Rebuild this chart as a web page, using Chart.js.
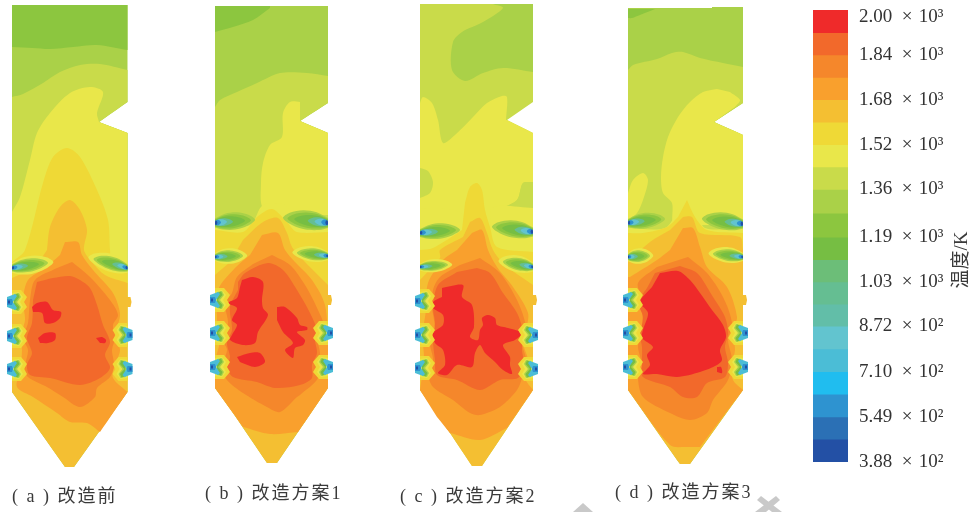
<!DOCTYPE html>
<html>
<head>
<meta charset="utf-8">
<style>
  html, body { margin: 0; background: #fff; }
  #wrap { position: relative; width: 974px; height: 512px; overflow: hidden; }
  canvas { position: absolute; top: 0; }
  #panels { left: 0; }
  #bar { left: 813px; }
</style>
<script src="https://cdn.jsdelivr.net/npm/chart.js@4"></script>
</head>
<body>
<div id="wrap">
  <canvas id="panels" width="974" height="512"></canvas>
  <canvas id="bar" width="161" height="512"></canvas>
</div>
<script>
// colour levels, hottest first (index = level)
const levelColors = ["#ef2a2a", "#f2692b", "#f5872b", "#f9a02d", "#f4bf32", "#efd936", "#e9e74a", "#c9db4a",
  "#aad148", "#8cc63f", "#76be43", "#6cbe78", "#65be92", "#62bea8", "#62c4cf", "#4bbdd6",
  "#20bdef", "#2e93d0", "#2b70b5", "#2350a5"];
const levelEdges = [2000, 1919, 1840, 1760, 1680, 1600, 1520, 1440, 1360, 1275, 1190, 1110, 1030, 951, 872, 791, 710, 630, 549, 469, 388];

// colour bar ticks; the top label sits a little under the top of the bar
const tickValues = [1975, 1840, 1680, 1520, 1360, 1190, 1030, 872, 710, 549, 388];
const tickLabels = ["2.00\u2002×\u200410³", "1.84\u2002×\u200410³", "1.68\u2002×\u200410³", "1.52\u2002×\u200410³", "1.36\u2002×\u200410³",
  "1.19\u2002×\u200410³", "1.03\u2002×\u200410³", "8.72\u2002×\u200410²", "7.10\u2002×\u200410²", "5.49\u2002×\u200410²", "3.88\u2002×\u200410²"];

const captionTexts = ["( a ) 改造前", "( b ) 改造方案1", "( c ) 改造方案2", "( d ) 改造方案3"];
const captionX = [12, 205, 400, 615];
const captionY = [497, 494, 497, 493];
const axisTitle = "温度/K";

// contour regions: [level, outline], painted in order
const panelA = [
  [8, [[12,5],[127.5,5],[127.5,102],[99,122],[127.5,133],[127.5,392],[74,467],[65,467],[12,392]]],
  [9, [[12,5],[127.5,5],[127.5,50],[97,45],[73,47],[50,49],[33,48],[12,47]]],
  [7, [[12,97],[23,94],[43,83],[60,72],[80,65],[100,64],[127.5,70],[127.5,102],[99,122],[127.5,133],[127.5,300],[12,300]]],
  [6, [[12,212],[20,197],[30,160],[37,133],[50,113],[70,93],[90,87],[103,92],[97,113],[99,122],[127.5,133],[127.5,300],[12,300]]],
  [5, [[12,262],[25,250],[43,183],[53,157],[67,148],[80,157],[97,190],[108,220],[110,250],[112,265],[127.5,273],[127.5,392],[12,392]]],
  [4, [[47,250],[50,227],[60,207],[70,200],[80,210],[87,230],[84,250],[92,262],[105,275],[127.5,283],[127.5,392],[74,467],[65,467],[12,392],[12,278],[35,268]]],
  [3, [[65,242],[78,242],[82,255],[93,270],[113,293],[120,313],[118,325],[115,338],[120,350],[115,365],[113,378],[127.5,392],[100,432],[87,423],[70,422],[57,413],[33,397],[17,387],[20,370],[22,350],[20,338],[25,320],[23,300],[28,280],[45,268],[60,255]]],
  [2, [[72,262],[90,277],[110,300],[118,315],[113,325],[115,338],[112,350],[114,365],[110,377],[97,388],[95,397],[80,407],[63,397],[47,387],[28,377],[25,367],[28,350],[23,338],[28,323],[30,300],[35,280],[57,268]]],
  [1, [[37,282],[53,278],[70,276],[80,280],[90,288],[97,305],[103,325],[110,342],[105,355],[110,368],[100,378],[80,385],[50,378],[30,375],[27,365],[32,353],[27,338],[32,323],[33,300]]],
  [0, [[32,307],[37,303],[47,302],[53,310],[61,312],[60,318],[53,323],[45,323],[42,313],[33,312]]],
  [0, [[38,338],[45,333],[55,333],[55,340],[48,343],[40,343]]],
  [0, [[96,338],[102,337],[106,340],[105,343],[100,343]]],
];

const panelB = [
  [8, [[215,6],[328,6],[328,103],[300,121],[328,133],[328,388],[277,463],[267,463],[233,413],[215,388]]],
  [9, [[215,6],[270,6],[270,8],[253,20],[233,27],[215,32]]],
  [7, [[215,107],[220,100],[237,92],[257,83],[280,73],[307,73],[328,76],[328,103],[300,121],[328,133],[328,260],[215,260]]],
  [6, [[300,102],[290,102],[283,113],[282,137],[270,145],[263,163],[261,183],[263,208],[283,210],[300,215],[328,215],[328,133],[300,121]]],
  [6, [[215,225],[250,225],[263,205],[285,205],[300,222],[328,225],[328,270],[215,270]]],
  [5, [[215,230],[243,232],[257,217],[272,209],[287,222],[297,232],[328,232],[328,388],[215,388]]],
  [4, [[243,240],[263,222],[278,218],[287,233],[292,247],[305,262],[328,285],[328,388],[277,463],[267,463],[233,413],[215,388],[215,275],[230,262]]],
  [3, [[262,235],[278,233],[285,250],[295,262],[312,280],[325,305],[328,345],[328,388],[298,432],[270,434],[243,427],[233,413],[215,388],[215,360],[220,340],[217,320],[218,290],[235,268],[250,255]]],
  [2, [[272,255],[290,265],[305,285],[318,310],[325,330],[318,340],[320,353],[318,378],[300,395],[297,397],[280,412],[267,407],[243,393],[227,380],[222,367],[227,350],[223,340],[228,323],[225,303],[232,293],[237,277],[253,264]]],
  [1, [[238,282],[245,273],[268,263],[283,270],[297,290],[310,313],[317,330],[315,340],[317,353],[312,365],[312,378],[300,385],[275,388],[257,382],[233,377],[227,367],[230,357],[227,343],[232,330],[230,307],[238,290]]],
  [0, [[242,280],[253,277],[263,282],[262,300],[263,308],[268,315],[258,332],[255,343],[243,345],[230,340],[232,335],[237,325],[232,320],[237,308],[228,303],[237,298],[240,287]]],
  [0, [[277,307],[285,307],[297,318],[300,325],[307,327],[307,330],[297,332],[305,340],[303,345],[295,348],[293,358],[285,350],[293,343],[283,332],[277,320]]],
  [0, [[237,357],[250,353],[260,353],[265,362],[255,367],[240,362]]],
];

const panelC = [
  [7, [[420,4],[533,4],[533,102],[507,120],[533,133],[533,390],[482,466],[472,466],[450,433],[420,390]]],
  [8, [[493,4],[503,8],[483,22],[462,32],[453,42],[452,70],[465,81],[483,73],[503,68],[533,72],[533,4]]],
  [6, [[420,103],[423,97],[432,103],[438,120],[443,143],[455,135],[473,117],[487,103],[502,96],[507,97],[506,120],[507,120],[533,133],[533,182],[523,183],[517,200],[497,213],[500,250],[420,250],[420,198],[430,193],[433,182],[428,171],[420,168]]],
  [7, [[533,182],[523,183],[517,200],[497,213],[533,222]]],
  [6, [[420,208],[460,212],[470,235],[490,235],[492,208],[533,208],[533,270],[420,270]]],
  [5, [[465,203],[470,187],[477,183],[482,190],[485,210],[490,227],[497,247],[533,252],[533,390],[420,390],[420,250],[433,248],[462,230]]],
  [4, [[470,222],[480,218],[487,233],[493,250],[505,265],[533,285],[533,390],[482,466],[472,466],[450,433],[420,390],[420,280],[440,258],[440,250],[463,237]]],
  [3, [[472,233],[482,230],[488,250],[497,267],[513,287],[528,313],[526,330],[523,343],[528,360],[525,378],[533,390],[507,428],[480,440],[450,433],[437,417],[420,390],[424,360],[422,335],[426,310],[428,283],[443,260],[457,250]]],
  [2, [[480,258],[500,273],[517,300],[526,327],[522,343],[526,360],[522,378],[517,390],[500,407],[480,415],[470,413],[453,400],[433,387],[428,373],[433,360],[430,343],[435,330],[432,307],[433,290],[440,277],[460,265]]],
  [1, [[477,268],[490,273],[503,293],[517,313],[523,332],[522,350],[524,365],[518,378],[500,380],[480,390],[457,380],[437,375],[435,360],[433,340],[435,323],[433,307],[438,285],[457,272]]],
  [0, [[442,288],[463,285],[462,297],[472,305],[474,327],[470,337],[478,340],[480,330],[483,325],[482,318],[488,315],[495,318],[497,325],[508,328],[522,333],[515,340],[503,345],[510,357],[510,365],[512,374],[503,370],[495,362],[485,353],[480,345],[475,353],[472,367],[457,365],[447,375],[438,373],[445,365],[443,350],[435,343],[433,333],[443,325],[443,315],[433,308],[433,302],[442,297]]],
];

const panelD = [
  [8, [[628,8],[712,8],[712,7],[743,7],[743,103],[714,122],[743,135],[743,390],[690,464],[680,464],[677,460],[628,390]]],
  [9, [[628,9],[655,9],[640,15],[632,18],[628,18]]],
  [7, [[628,70],[633,65],[657,59],[672,53],[683,52],[700,58],[723,63],[743,67],[743,103],[714,122],[743,135],[743,260],[628,260]]],
  [6, [[717,89],[703,92],[690,102],[678,117],[668,137],[663,157],[661,177],[663,193],[672,203],[674,225],[700,225],[743,225],[743,135],[714,122],[735,107],[740,100],[730,92]]],
  [6, [[628,193],[633,180],[643,173],[648,180],[643,200],[637,213],[628,220]]],
  [6, [[628,228],[665,228],[680,210],[695,210],[705,228],[743,228],[743,270],[628,270]]],
  [5, [[687,200],[695,217],[707,230],[743,233],[743,390],[628,390],[628,233],[643,233],[667,227],[678,217]]],
  [4, [[683,217],[692,217],[700,233],[740,237],[743,250],[743,390],[690,464],[680,464],[677,460],[628,390],[628,262],[650,242],[670,230]]],
  [3, [[683,228],[693,228],[700,247],[707,267],[727,287],[737,317],[733,330],[735,350],[732,363],[733,380],[743,390],[700,447],[687,447],[670,445],[628,390],[628,277],[630,277],[657,260],[670,250]]],
  [2, [[688,257],[707,273],[723,297],[732,323],[728,340],[732,360],[728,380],[713,400],[707,413],[690,420],[670,413],[643,397],[638,377],[642,365],[638,347],[642,330],[642,300],[638,283],[657,267]]],
  [1, [[680,266],[697,273],[713,297],[725,317],[728,333],[725,347],[728,363],[725,377],[707,383],[697,397],[683,397],[670,387],[643,377],[642,363],[642,347],[640,335],[643,317],[638,302],[647,288],[655,273]]],
  [0, [[660,273],[678,271],[690,280],[700,293],[712,310],[723,325],[726,337],[720,350],[722,360],[717,365],[700,372],[677,377],[657,374],[643,374],[650,365],[647,355],[653,347],[642,338],[643,330],[648,313],[640,302],[652,287]]],
  [0, [[717,367],[721,367],[722,373],[717,372]]],
];

// wall burners: [wall x, direction into the furnace, wall y]
const nozzles = [
  [12,1,302],[12,1,336],[12,1,369],[127.5,-1,335],[127.5,-1,369],
  [215,1,300],[215,1,333],[215,1,367],[328,-1,333],[328,-1,367],
  [420,1,301],[420,1,335],[420,1,368],[533,-1,335],[533,-1,369],
  [628,1,300],[628,1,333],[628,1,367],[743,-1,333],[743,-1,367],
];
// small ears on the right wall
const ears = [[127.5,302],[328,300],[533,300],[743,300]];
// air ports: [wall x, direction, wall y, length, half height, rise at far end, halo]
const lenses = [
  [12,1,268,36,7,-5,1],[127.5,-1,268,34,7,-9,1],
  [215,1,223,40,9,-3,0],[328,-1,223,45,10,-5,0],[215,1,257,28,6,-1,1],[328,-1,256,31,6,-3,1],
  [420,1,233,40,8,-3,0],[533,-1,232,41,9,-5,0],[420,1,267,28,5,-2,1],[533,-1,267,30,6.5,-5,1],
  [628,1,223,37,8,-4,0],[743,-1,224,41,9,-5,0],[628,1,257,22,6,-1,1],[743,-1,257,30,6,-3,1],
];

// shapes repeated at each burner
const nozzleLayers = [
  [5, [[0,-12],[9,-12],[15,-5],[12,0],[15,5],[9,12],[0,12]]],
  [6, [[0,-9],[7,-10],[11,-5],[8,0],[11,5],[7,10],[0,9]]],
  [8, [[2,-8],[7,-9],[9,-5],[5,0],[9,5],[7,9],[2,8]]],
  [10, [[2,-7],[6,-8.5],[7.5,-5],[3,0],[7.5,5],[6,8.5],[2,7]]],
  [15, [[-5,-5],[3,-8],[5,-6],[1,0],[5,6],[3,8],[-5,5]]],
  [17, [[-5,-3],[0,-3],[1,0],[0,3],[-5,3]]],
  [19, [[-4,-1.5],[-2,-1.5],[-2,1.5],[-4,1.5]]],
];
const lensOutline = [[0,-0.5],[0.25,-0.95],[0.55,-1],[0.85,-0.6],[1,0],[0.8,0.6],[0.5,0.9],[0.2,0.8],[0,0.5]];
// level, length scale, height scale
const lensLayers = [[8,1,1],[9,0.9,0.8],[10,0.75,0.6],[12,0.45,0.45],[14,0.3,0.35],[17,0.15,0.3],[19,0.06,0.25]];

const watermark = [
  [[573,512],[583,503],[593,512]],
  [[757,500],[761,496],[782,512],[772,512]],
  [[780,500],[776,496],[755,512],[766,512]],
];

function region(points, color, tension = 0) {
  return {
    data: points.map(([x, y]) => ({ x, y })),
    showLine: true, fill: "shape", tension,
    backgroundColor: color, borderWidth: 0, pointRadius: 0,
  };
}

function nearEdge([x, y], [ax, ay], [bx, by]) {
  const dx = bx - ax, dy = by - ay;
  const t = Math.max(0, Math.min(1, ((x - ax) * dx + (y - ay) * dy) / (dx * dx + dy * dy)));
  return Math.hypot(x - ax - t * dx, y - ay - t * dy) < 2.5;
}

// points on the furnace wall are doubled so the curve stays sharp there and does not bulge out
function holdWall(points, hull) {
  return points.flatMap((p) => {
    const onWall = hull.some((a, i) => nearEdge(p, a, hull[(i + 1) % hull.length]));
    return onWall ? [p, p] : [p];
  });
}

function buildDatasets() {
  const sets = [];
  for (const w of watermark) sets.push(region(w, "#c9c9c9"));
  for (const panel of [panelA, panelB, panelC, panelD]) {
    const hull = panel[0][1];
    for (const [lvl, pts] of panel) sets.push(region(holdWall(pts, hull), levelColors[lvl], pts === hull ? 0 : 0.3));
  }
  for (const [x, y] of ears) {
    sets.push(region([[x - 2, y - 5], [x + 3, y - 5], [x + 4, y], [x + 3, y + 5], [x - 2, y + 5]], levelColors[4]));
  }
  for (const [wall, dir, y] of nozzles) {
    for (const [lvl, pts] of nozzleLayers) {
      sets.push(region(pts.map(([dx, dy]) => [wall + dir * dx, y + dy]), levelColors[lvl]));
    }
  }
  for (const [wall, dir, y, len, h, rise, halo] of lenses) {
    const layers = halo ? [[6, 1.15, 1.35], ...lensLayers] : lensLayers;
    for (const [lvl, su, sv] of layers) {
      const pts = lensOutline.map(([u, v]) => [
        wall + dir * u * su * len,
        y + v * sv * h + u * su * rise,
      ]);
      sets.push(region(pts, levelColors[lvl], 0.3));
    }
  }
  // first dataset has to paint first, chart.js paints high order first
  sets.forEach((s, i) => { s.order = sets.length - i; });
  return sets;
}

const textPlugin = {
  id: "texts",
  afterDraw(chart) {
    const { ctx, scales } = chart;
    ctx.save();
    ctx.fillStyle = "#3a3a3a";
    ctx.textBaseline = "middle";
    ctx.font = '18px "Liberation Serif", "Noto Sans CJK SC"';
    ctx.letterSpacing = "2px";
    captionTexts.forEach((t, i) => {
      ctx.fillText(t, scales.x.getPixelForValue(captionX[i]), scales.y.getPixelForValue(captionY[i]));
    });
    ctx.letterSpacing = "0px";
    ctx.translate(scales.x.getPixelForValue(962), scales.y.getPixelForValue(260));
    ctx.rotate(-Math.PI / 2);
    ctx.textAlign = "center";
    ctx.font = '19px "Liberation Serif", "Noto Sans CJK SC"';
    ctx.fillText(axisTitle, 0, 0);
    ctx.restore();
  },
};

new Chart(document.getElementById("panels"), {
  type: "scatter",
  data: { datasets: buildDatasets() },
  plugins: [textPlugin],
  options: {
    responsive: false,
    animation: false,
    layout: { padding: 0 },
    plugins: { legend: { display: false }, tooltip: { enabled: false } },
    scales: {
      x: { type: "linear", min: 0, max: 974, display: false },
      y: { type: "linear", min: 0, max: 512, reverse: true, display: false },
    },
  },
});

new Chart(document.getElementById("bar"), {
  type: "bar",
  data: {
    labels: ["温度"],
    datasets: levelColors.map((c, i) => ({
      data: [[levelEdges[i + 1], levelEdges[i]]],
      backgroundColor: c,
      borderWidth: 0,
      grouped: false,
      barPercentage: 1,
      categoryPercentage: 1,
    })),
  },
  options: {
    responsive: false,
    animation: false,
    layout: { padding: { top: 10, bottom: 50 } },
    plugins: { legend: { display: false }, tooltip: { enabled: false } },
    scales: {
      x: { display: false },
      y: {
        position: "right",
        min: 388,
        max: 2000,
        grid: { display: false, drawTicks: false },
        border: { display: false },
        afterFit(scale) { scale.width = 126; scale.paddingTop = 0; scale.paddingBottom = 0; },
        afterBuildTicks(scale) { scale.ticks = tickValues.map((value) => ({ value })); },
        ticks: {
          padding: 11,
          autoSkip: false,
          color: "#333",
          font: { family: '"Liberation Serif"', size: 19 },
          callback: (v) => tickLabels[tickValues.indexOf(v)],
        },
      },
    },
  },
});
</script>
</body>
</html>
